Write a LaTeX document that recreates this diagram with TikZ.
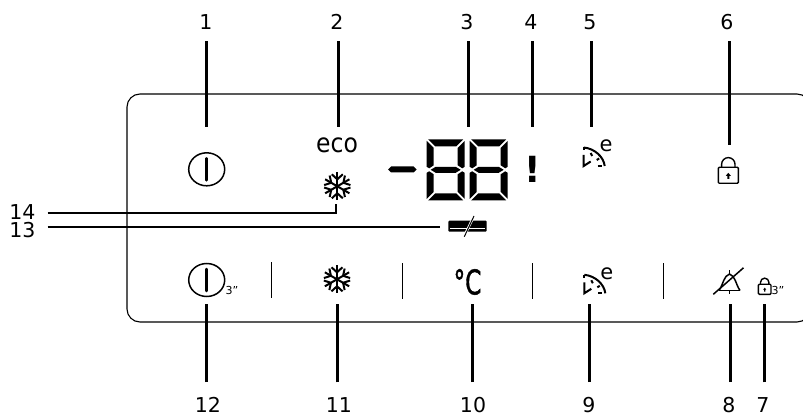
\documentclass[tikz,border=0pt]{standalone}
\usepackage{fontspec}
\setmainfont{DejaVu Sans}
\newfontfamily\degfont[FakeBold=1.5]{DejaVu Sans}
\tikzset{
    topleader/.style={line width=3pt,shorten <=11.5pt},
    bottomleader/.style={line width=3pt,shorten <=15pt},
    thinleader/.style={line width=2pt},
    divider/.style={line width=1.2pt},
    numlabel/.style={inner sep=0pt,font=\fontsize{20.5}{20.5}\selectfont},
    tinylabel/.style={inner sep=0pt,font=\fontsize{11}{11}\selectfont},
    seg/.style={fill=black,draw=none},
    pics/powericon/.style={code={
        \draw[line width=1.5pt] (0,0) ellipse (18 and 16.5);
        \draw[line width=2.5pt,line cap=round] (0,-11) -- (0,11);
    }},
    pics/snowflake/.style={code={
        \foreach \a in {0,60,...,300} {
            \begin{scope}[rotate=\a]
                \draw[line width=2pt] (0,0) -- (0,-14);
                \draw[line width=2pt] (-5.5,-12) -- (0,-7) -- (5.5,-12);
            \end{scope}
        }
    }},
    pics/gaugeicon/.style={code={
        \draw[line width=2pt] (0,-18.5) .. controls (11,-17.5) and (20,-9) .. (21,0);
        \draw[line width=2pt] (0,-18.5) -- (0,-15.5);
        \draw[line width=2pt] (0,-11) -- (0,0) -- (7,-4.5);
        \draw[line width=2pt] (14,0) -- (18,0);
        \draw[line width=2pt] (7,-13) -- (8.5,-10);
        \draw[line width=2pt] (15.5,-7.5) -- (13,-6);
        \node[inner sep=0pt,font=\fontsize{21}{21}\selectfont] (ge) at (22.5,-20) {e};
    }},
    pics/lockicon/.style={code={
        \draw[line width=1.4pt,rounded corners=1pt] (-10,-8) rectangle (10,8);
        \draw[line width=1.4pt] (-6.7,-8) -- (-6.7,-11) arc (180:360:6.7) -- (6.7,-8);
        \fill (0,-2.5) -- (2.5,0.5) -- (1,0.5) -- (1,3.5) -- (-1,3.5) -- (-1,0.5) -- (-2.5,0.5) -- cycle;
    }},
    pics/digit/.style={code={
        \fill[seg] (1.5,0) -- (36.5,0) -- (29.5,7) -- (8.5,7) -- cycle;
        \fill[seg] (1.5,61) -- (36.5,61) -- (29.5,54) -- (8.5,54) -- cycle;
        \fill[seg] (0,1.5) -- (7,8.5) -- (7,26) -- (2.5,29) -- (0,27.5) -- cycle;
        \fill[seg] (38,1.5) -- (31,8.5) -- (31,26) -- (35.5,29) -- (38,27.5) -- cycle;
        \fill[seg] (0,59.5) -- (7,52.5) -- (7,35) -- (2.5,32) -- (0,33.5) -- cycle;
        \fill[seg] (38,59.5) -- (31,52.5) -- (31,35) -- (35.5,32) -- (38,33.5) -- cycle;
        \fill[seg] (4,30.5) -- (9,27.5) -- (29,27.5) -- (34,30.5) -- (29,33.5) -- (9,33.5) -- cycle;
    }}
}
\begin{document}
\begin{tikzpicture}[x=1pt,y=-1pt]
\useasboundingbox (0,0) rectangle (803,414);
\clip (0,0) rectangle (803,414);
%%%%%%%%%%%%%%%%%%%%%%%%%%%%%%%%%%%%%
% panel
\draw[line width=1.1pt,rounded corners=13pt] (127,94) rectangle (810,322);
\draw[divider] (271.3,262) -- (271.3,298);
\draw[divider] (402.3,263) -- (402.3,299);
\draw[divider] (532.3,263) -- (532.3,299);
\draw[divider] (663.3,263) -- (663.3,299);
%%%%%%%%%%%%%%%%%%%%%%%%%%%%%%%%%%%%%
% upper row
\pic at (206.7,169.3) {powericon};
\node[inner sep=0pt,font=\fontsize{23.5}{23.5}\selectfont] (eco) at (337,145.5) {\scalebox{1}[1.12]{eco}};
\pic at (337.3,186.3) {snowflake};
\fill[seg] (388,169.5) -- (391,166.5) -- (413.5,166.5) -- (416.5,169.5) -- (413.5,172.5) -- (391,172.5) -- cycle;
\pic at (426.7,139.3) {digit};
\pic at (469.7,139.3) {digit};
\node[inner sep=0pt,font=\bfseries\fontsize{36}{36}\selectfont] (warn) at (532.7,169.5) {!};
\pic at (583.7,166) {gaugeicon};
\pic at (728.3,175.3) {lockicon};
% bar below the digits
\fill[rounded corners=1pt] (448.3,220.7) rectangle (486.7,231.7);
\draw[white,line width=0.9pt] (450,228.3) -- (485,228.3);
\draw[white,line width=2.4pt] (465,234.5) -- (473,218);
\draw[line width=1pt] (464.3,236.7) -- (474,216);
%%%%%%%%%%%%%%%%%%%%%%%%%%%%%%%%%%%%%
% lower row
\pic at (206.7,280) {powericon};
\node[tinylabel] (pw3) at (232,290.7) {3"};
\pic at (337,279.3) {snowflake};
\node[inner sep=0pt,font=\degfont\fontsize{34}{34}\selectfont] (degc) at (467.5,282) {\scalebox{0.68}[1]{°C}};
\pic at (584.3,293.3) {gaugeicon};
\begin{scope}[shift={(729.5,0)}]
    \draw[line width=1.5pt] (-10.5,290.5) -- (10.5,290.5);
    \draw[line width=1.5pt] (-10.5,290.5) .. controls (-6,284) and (-6,276) .. (0,274) .. controls (6,276) and (6,284) .. (10.5,290.5);
    \draw[line width=1.5pt] (0,270) -- (0,274);
    \draw[line width=1.5pt] (0,291) -- (0,293.5);
\end{scope}
\draw[line width=1.5pt] (713.3,294.3) -- (743.5,267.8);
\pic[scale=0.63] at (764.7,289.3) {lockicon};
\node[tinylabel] (lk3) at (778,290) {3"};
%%%%%%%%%%%%%%%%%%%%%%%%%%%%%%%%%%%%%
% leaders from above
\node[numlabel] (n1) at (206,22) {1};
\node[numlabel] (n2) at (337,22) {2};
\node[numlabel] (n3) at (467,22) {3};
\node[numlabel] (n4) at (531,22) {4};
\node[numlabel] (n5) at (590,22) {5};
\node[numlabel] (n6) at (727,22) {6};
\coordinate (e1) at (206,127);
\coordinate (e2) at (338,127);
\coordinate (e3) at (468,127);
\coordinate (e4) at (532.7,127);
\coordinate (e5) at (591.7,127);
\coordinate (e6) at (729,145);
\draw[topleader] (n1.south -| e1) -- (e1);
\draw[topleader] (n2.south -| e2) -- (e2);
\draw[topleader] (n3.south -| e3) -- (e3);
\draw[topleader] (n4.south -| e4) -- (e4);
\draw[topleader] (n5.south -| e5) -- (e5);
\draw[topleader] (n6.south -| e6) -- (e6);
%%%%%%%%%%%%%%%%%%%%%%%%%%%%%%%%%%%%%
% leaders from below
\node[numlabel] (n12) at (208,405) {12};
\node[numlabel] (n11) at (339,405) {11};
\node[numlabel] (n10) at (473,405) {10};
\node[numlabel] (n9) at (589,405) {9};
\node[numlabel] (n8) at (729,405) {8};
\node[numlabel] (n7) at (763,405) {7};
\coordinate (e12) at (206.7,304);
\coordinate (e11) at (337,304);
\coordinate (e10) at (472.7,304);
\coordinate (e9) at (589.3,304);
\coordinate (e8) at (730.3,304);
\coordinate (e7) at (764,304);
\draw[bottomleader] (n12.north -| e12) -- (e12);
\draw[bottomleader] (n11.north -| e11) -- (e11);
\draw[bottomleader] (n10.north -| e10) -- (e10);
\draw[bottomleader] (n9.north -| e9) -- (e9);
\draw[bottomleader] (n8.north -| e8) -- (e8);
\draw[bottomleader] (n7.north -| e7) -- (e7);
%%%%%%%%%%%%%%%%%%%%%%%%%%%%%%%%%%%%%
% leaders from the left
\node[numlabel] (n14) at (22.5,212) {14};
\node[numlabel] (n13) at (22.5,230) {13};
\coordinate (s14) at (47.5,213.5);
\coordinate (e14) at (336,204);
\coordinate (s13) at (47.5,227.5);
\coordinate (e13) at (440,227.5);
\draw[thinleader] (s14) -| (e14);
\draw[thinleader] (s13) -- (e13);
\end{tikzpicture}
\end{document}
